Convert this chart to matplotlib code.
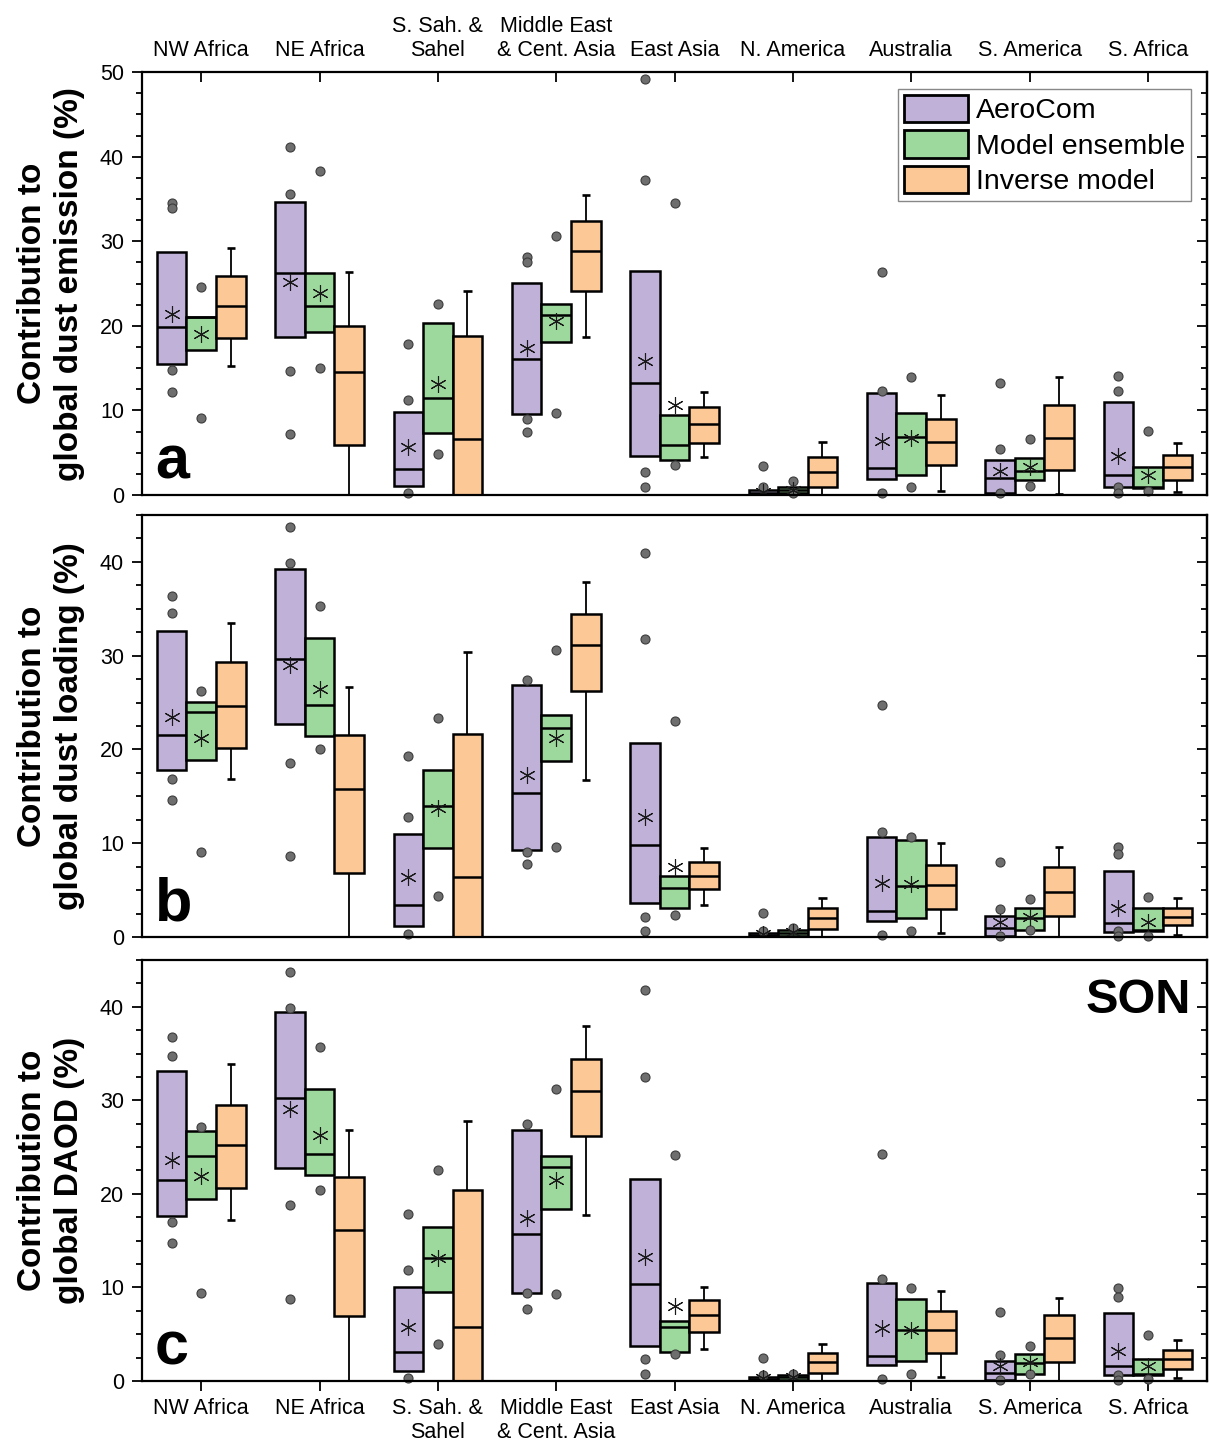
import matplotlib
matplotlib.use("Agg")
import matplotlib.pyplot as plt
from matplotlib.patches import Patch
from matplotlib.ticker import MultipleLocator
import numpy as np

plt.rcParams['font.family'] = ['Liberation Sans', 'DejaVu Sans']

regions = ["NW Africa", "NE Africa", "S. Sah. &\nSahel", "Middle East\n& Cent. Asia",
           "East Asia", "N. America", "Australia", "S. America", "S. Africa"]

# (q1, median, q3) per region; means; individual model points
emis_aero = [(15.5, 19.9, 28.7), (18.7, 26.2, 34.6), (1.1, 3.1, 9.8), (9.6, 16.1, 25.1),
             (4.6, 13.2, 26.5), (0.1, 0.3, 0.6), (1.9, 3.2, 12.1), (0.3, 2.0, 4.1), (0.9, 2.4, 11.0)]
emis_aero_mean = [21.4, 25.2, 5.7, 17.4, 15.9, 0.4, 6.4, 2.8, 4.6]
emis_aero_pts = [[34.5, 33.9, 14.8, 12.2], [41.2, 35.6, 14.7, 7.2], [17.8, 11.2, 0.3],
                 [28.1, 27.5, 9.0, 7.4], [49.2, 37.3, 2.7, 1.0], [3.4, 0.9],
                 [26.4, 12.3, 0.3], [13.3, 5.5, 0.2], [14.1, 12.3, 1.0, 0.3]]
emis_ens = [(17.2, 21.0, 21.1), (19.3, 22.4, 26.3), (7.3, 11.5, 20.3), (18.1, 21.3, 22.6),
            (4.1, 5.9, 9.5), (0.3, 0.6, 0.9), (2.4, 6.9, 9.7), (1.8, 2.8, 4.4), (0.8, 0.9, 3.3)]
emis_ens_mean = [19.05, 23.9, 13.1, 20.6, 10.6, 0.6, 6.7, 3.3, 2.4]
emis_ens_pts = [[24.6, 9.1], [38.3, 15.0], [22.6, 4.8], [30.6, 9.7], [34.5, 3.6],
                [1.7, 0.3], [13.9, 1.0], [6.6, 1.1], [7.6, 0.5]]
emis_inv = [(18.6, 22.4, 25.9), (5.9, 14.5, 20.0), (0.0, 6.6, 18.8), (24.1, 28.8, 32.4),
            (6.1, 8.4, 10.4), (1.0, 2.7, 4.5), (3.6, 6.3, 9.0), (3.0, 6.8, 10.7), (1.8, 3.3, 4.7)]
emis_inv_whisk = [(15.2, 29.2), (0.0, 26.4), (0.0, 24.1), (18.7, 35.5), (4.5, 12.2),
                  (0.0, 6.3), (0.5, 11.8), (0.1, 13.9), (0.4, 6.2)]

load_aero = [(17.8, 21.5, 32.6), (22.7, 29.6, 39.2), (1.2, 3.4, 11.0), (9.3, 15.4, 26.9),
             (3.6, 9.8, 20.7), (0.1, 0.2, 0.4), (1.7, 2.8, 10.7), (0.1, 1.0, 2.2), (0.5, 1.5, 7.0)]
load_aero_mean = [23.5, 29.0, 6.4, 17.3, 12.8, 0.3, 5.8, 1.6, 3.1]
load_aero_pts = [[36.4, 34.6, 16.9, 14.6], [43.7, 39.9, 18.6, 8.6], [19.3, 12.8, 0.3],
                 [27.4, 9.1, 7.8], [41.0, 31.8, 2.1, 0.6], [2.6, 0.6],
                 [24.7, 11.2, 0.2], [8.0, 3.0, 0.1], [9.6, 8.8, 0.6, 0.1]]
load_ens = [(18.9, 24.0, 25.1), (21.4, 24.7, 31.9), (9.5, 14.0, 17.8), (18.8, 22.3, 23.7),
            (3.1, 5.2, 6.5), (0.1, 0.4, 0.7), (2.0, 5.4, 10.3), (0.7, 2.0, 3.1), (0.6, 0.7, 3.1)]
load_ens_mean = [21.2, 26.4, 13.8, 21.2, 7.5, 0.5, 5.7, 2.1, 1.6]
load_ens_pts = [[26.2, 9.1], [35.3, 20.0], [23.4, 4.4], [30.6, 9.6], [23.0, 2.3],
                [1.0], [10.7, 0.6], [4.0, 0.7], [4.3, 0.1]]
load_inv = [(20.2, 24.6, 29.3), (6.8, 15.8, 21.5), (0.0, 6.4, 21.7), (26.2, 31.1, 34.4),
            (5.1, 6.5, 8.0), (0.8, 2.0, 3.1), (3.0, 5.5, 7.7), (2.2, 4.8, 7.5), (1.3, 2.1, 3.1)]
load_inv_whisk = [(16.9, 33.5), (0.0, 26.7), (0.0, 30.4), (16.7, 37.9), (3.4, 9.5),
                  (0.0, 4.2), (0.4, 10.0), (0.0, 9.6), (0.2, 4.2)]

daod_aero = [(17.6, 21.5, 33.1), (22.8, 30.2, 39.4), (1.1, 3.1, 10.0), (9.4, 15.7, 26.8),
             (3.7, 10.4, 21.6), (0.1, 0.2, 0.4), (1.7, 2.7, 10.5), (0.1, 0.9, 2.1), (0.6, 1.6, 7.3)]
daod_aero_mean = [23.6, 29.1, 5.8, 17.4, 13.2, 0.3, 5.7, 1.6, 3.2]
daod_aero_pts = [[36.8, 34.7, 17.0, 14.7], [43.7, 39.9, 18.8, 8.8], [17.8, 11.9, 0.3],
                 [27.5, 9.4, 7.7], [41.8, 32.5, 2.3, 0.7], [2.5, 0.6],
                 [24.3, 10.9, 0.2], [7.4, 2.8, 0.1], [9.9, 9.0, 0.6, 0.1]]
daod_ens = [(19.4, 24.1, 26.7), (22.0, 24.3, 31.2), (9.5, 13.1, 16.5), (18.4, 22.9, 24.0),
            (3.1, 5.8, 6.4), (0.1, 0.4, 0.6), (2.1, 5.4, 8.8), (0.7, 1.9, 2.9), (0.6, 0.7, 2.3)]
daod_ens_mean = [21.9, 26.3, 13.1, 21.5, 8.0, 0.4, 5.4, 2.0, 1.6]
daod_ens_pts = [[27.2, 9.4], [35.7, 20.4], [22.5, 3.9], [31.2, 9.3], [24.2, 2.9],
                [0.7], [9.9, 0.7], [3.7, 0.7], [4.9, 0.2]]
daod_inv = [(20.6, 25.2, 29.5), (6.9, 16.1, 21.8), (0.0, 5.8, 20.4), (26.2, 31.0, 34.4),
            (5.2, 7.0, 8.7), (0.8, 2.0, 3.0), (3.0, 5.4, 7.5), (2.0, 4.6, 7.0), (1.3, 2.3, 3.3)]
daod_inv_whisk = [(17.2, 33.9), (0.0, 26.8), (0.0, 27.8), (17.7, 37.9), (3.4, 10.0),
                  (0.0, 4.0), (0.4, 9.6), (0.0, 8.9), (0.3, 4.4)]

c_aero = '#c0b1d8'
c_ens = '#9dd89d'
c_inv = '#fcc896'
dot_c = '#6e6e6e'
W = 0.25
LW = 1.8


def draw_boxes(ax, boxes, off, color):
    x = np.arange(len(boxes)) + off
    q1 = np.array([b[0] for b in boxes])
    med = np.array([b[1] for b in boxes])
    q3 = np.array([b[2] for b in boxes])
    ax.bar(x, q3 - q1, width=W, bottom=q1, color=color, edgecolor='k', linewidth=LW, zorder=3)
    ax.hlines(med, x - W / 2, x + W / 2, colors='k', linewidth=LW, zorder=4)
    return x


def draw_model(ax, boxes, means, pts, off, color):
    x = draw_boxes(ax, boxes, off, color)
    for xi, p in zip(x, pts):
        ax.plot([xi] * len(p), p, 'o', ms=6.5, mfc=dot_c, mec='#3c3c3c', mew=0.8,
                zorder=6, clip_on=False)
    # six-armed asterisk for the mean
    ax.plot(x, means, ls='none', marker=(6, 2, 0), ms=12, mec='#1a1a1a', mew=0.8, zorder=7)


def draw_inverse(ax, boxes, whisk, off):
    x = np.arange(len(boxes)) + off
    lo = np.array([w[0] for w in whisk])
    hi = np.array([w[1] for w in whisk])
    q1 = np.array([b[0] for b in boxes])
    q3 = np.array([b[2] for b in boxes])
    ax.vlines(x, q3, hi, colors='k', linewidth=1.3, zorder=2)
    ax.vlines(x, lo, q1, colors='k', linewidth=1.3, zorder=2)
    ax.hlines(hi, x - 0.035, x + 0.035, colors='k', linewidth=1.9, zorder=2)
    keep = lo > 0
    ax.hlines(lo[keep], x[keep] - 0.035, x[keep] + 0.035, colors='k', linewidth=1.9, zorder=2)
    draw_boxes(ax, boxes, off, c_inv)


fig = plt.figure(figsize=(12.09, 14.48), dpi=100)
rects = [(0.1175, 0.6581, 0.8809, 0.2921),
         (0.1175, 0.3529, 0.8809, 0.2914),
         (0.1175, 0.0463, 0.8809, 0.2907)]
panels = [
    (emis_aero, emis_aero_mean, emis_aero_pts, emis_ens, emis_ens_mean, emis_ens_pts,
     emis_inv, emis_inv_whisk, 50, "Contribution to\nglobal dust emission (%)", "a"),
    (load_aero, load_aero_mean, load_aero_pts, load_ens, load_ens_mean, load_ens_pts,
     load_inv, load_inv_whisk, 45, "Contribution to\nglobal dust loading (%)", "b"),
    (daod_aero, daod_aero_mean, daod_aero_pts, daod_ens, daod_ens_mean, daod_ens_pts,
     daod_inv, daod_inv_whisk, 45, "Contribution to\nglobal DAOD (%)", "c"),
]

axes = []
for i, (rect, p) in enumerate(zip(rects, panels)):
    aero, aero_m, aero_p, ens, ens_m, ens_p, inv, inv_w, ytop, ylab, letter = p
    ax = fig.add_axes(rect)
    axes.append(ax)
    draw_model(ax, aero, aero_m, aero_p, -0.25, c_aero)
    draw_model(ax, ens, ens_m, ens_p, 0.0, c_ens)
    draw_inverse(ax, inv, inv_w, 0.25)

    ax.set_xlim(-0.5, 8.5)
    ax.set_ylim(0, ytop)
    ax.set_yticks(np.arange(0, ytop + 0.1, 10))
    ax.yaxis.set_minor_locator(MultipleLocator(2.5))
    for s in ax.spines.values():
        s.set_linewidth(1.6)
        s.set_zorder(8)
    ax.tick_params(axis='y', which='both', direction='out', left=True, right=False,
                   width=1.3, labelsize=15.5, pad=6)
    ax.tick_params(axis='y', which='major', length=7)
    ax.tick_params(axis='y', which='minor', length=4)

    sec = ax.secondary_yaxis('right')
    sec.set_yticks(np.arange(0, ytop + 0.1, 10))
    sec.yaxis.set_minor_locator(MultipleLocator(2.5))
    sec.tick_params(axis='y', which='both', direction='in', labelright=False, width=1.3)
    sec.tick_params(axis='y', which='major', length=7)
    sec.tick_params(axis='y', which='minor', length=4)
    sec.spines['right'].set_linewidth(1.6)

    ax.set_xticks(np.arange(len(regions)))
    ax.set_xticklabels(regions)
    if i == 0:
        ax.tick_params(axis='x', top=True, labeltop=True, bottom=False, labelbottom=False,
                       direction='in', length=7, width=1.3, labelsize=15.5, pad=8)
    elif i == 1:
        ax.tick_params(axis='x', top=False, labeltop=False, bottom=False, labelbottom=False)
    else:
        ax.tick_params(axis='x', top=False, bottom=True, labelbottom=True,
                       direction='out', length=7, width=1.3, labelsize=15.5, pad=5)

    ax.text(-0.0854, 0.5, ylab, transform=ax.transAxes, rotation=90, ha='center',
            va='center', fontsize=24, fontweight='bold', linespacing=1.25)
    ax.text(0.012, 0.038, letter, transform=ax.transAxes, fontsize=44,
            fontweight='bold', va='baseline', ha='left', zorder=9)

axes[2].text(0.985, 0.874, "SON", transform=axes[2].transAxes, fontsize=35,
             fontweight='bold', ha='right', va='baseline', zorder=9)

handles = [Patch(facecolor=c_aero, edgecolor='k', linewidth=2, label='AeroCom'),
           Patch(facecolor=c_ens, edgecolor='k', linewidth=2, label='Model ensemble'),
           Patch(facecolor=c_inv, edgecolor='k', linewidth=2, label='Inverse model')]
leg = axes[0].legend(handles=handles, loc='upper right', bbox_to_anchor=(0.985, 0.96),
                     borderaxespad=0, fontsize=20.5, handlelength=2.25, handleheight=1.1,
                     handletextpad=0.3, labelspacing=0.22, borderpad=0.2,
                     fancybox=False, framealpha=1, edgecolor='#888888')
leg.get_frame().set_linewidth(1.0)
leg.set_zorder(10)

fig.savefig("out.png", dpi=100)
